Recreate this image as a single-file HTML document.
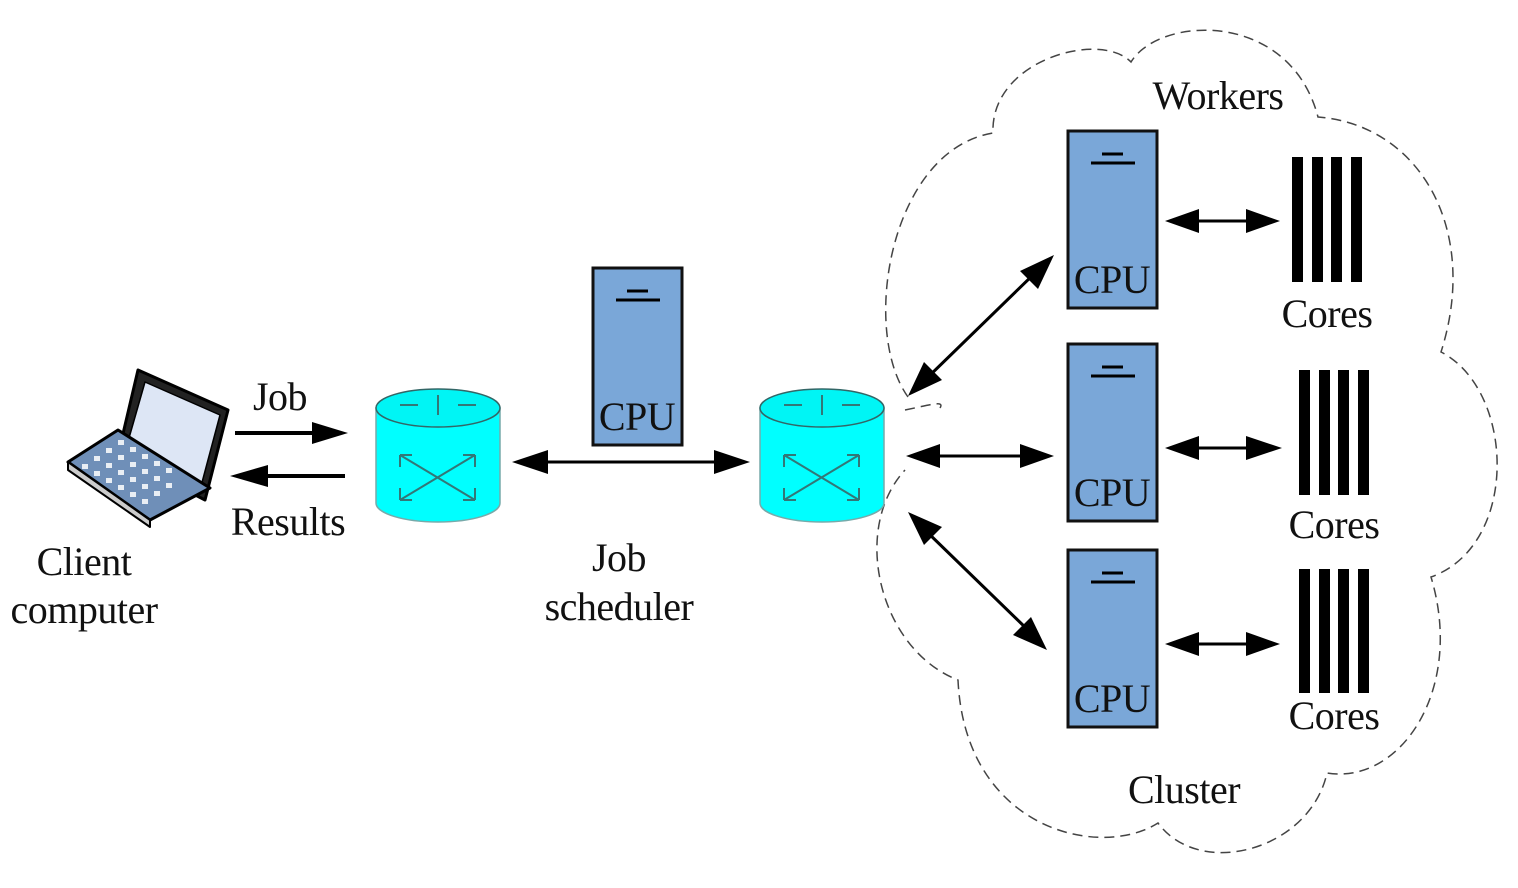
<!DOCTYPE html>
<html><head><meta charset="utf-8"><style>
html,body{margin:0;padding:0;background:#fff;}
svg{display:block;}
text{font-family:"Liberation Serif",serif;font-size:40px;fill:#111;letter-spacing:-0.5px;}
</style></head><body>
<svg width="1518" height="888" viewBox="0 0 1518 888" xmlns="http://www.w3.org/2000/svg">
<!-- cloud -->
<path d="M908,397 C860,330 890,150 993,133 C990,60 1100,30 1131,62 C1160,15 1290,10 1318,117 C1420,125 1480,230 1441,352 C1515,390 1520,545 1431,577 C1465,690 1400,785 1327,773 C1310,850 1200,880 1158,823 C1100,860 965,830 958,680 C880,650 850,530 905,470 M905,410 C930,405 945,400 940,408"
 fill="none" stroke="#444" stroke-width="1.5" stroke-dasharray="10,6"/>

<!-- laptop -->
<g stroke="#000" stroke-linejoin="round">
<polygon points="138,370 228,410 205,500 118,455" fill="#222" stroke-width="3"/>
<polygon points="145,382 220,415 200,490 125,452" fill="#dde6f5" stroke-width="1.5"/>
<polygon points="68,462 118,430 210,488 150,520" fill="#6f8fb8" stroke-width="3"/>
<polygon points="68,462 150,520 150,527 68,470" fill="#ccc" stroke-width="2"/>
</g>
<g fill="#fff" opacity=".85">
<g transform="translate(118,440)"><rect x="0" y="0" width="6" height="5"/><rect x="12" y="7" width="6" height="5"/><rect x="24" y="14" width="6" height="5"/><rect x="36" y="21" width="6" height="5"/><rect x="48" y="28" width="6" height="5"/></g>
<g transform="translate(106,448)"><rect x="0" y="0" width="6" height="5"/><rect x="12" y="7" width="6" height="5"/><rect x="24" y="14" width="6" height="5"/><rect x="36" y="21" width="6" height="5"/><rect x="48" y="28" width="6" height="5"/><rect x="60" y="35" width="6" height="5"/></g>
<g transform="translate(94,456)"><rect x="0" y="0" width="6" height="5"/><rect x="12" y="7" width="6" height="5"/><rect x="24" y="14" width="6" height="5"/><rect x="36" y="21" width="6" height="5"/><rect x="48" y="28" width="6" height="5"/><rect x="60" y="35" width="6" height="5"/></g>
<g transform="translate(82,464)"><rect x="0" y="0" width="6" height="5"/><rect x="12" y="7" width="6" height="5"/><rect x="24" y="14" width="6" height="5"/><rect x="36" y="21" width="6" height="5"/><rect x="48" y="28" width="6" height="5"/><rect x="60" y="35" width="6" height="5"/></g>
</g>

<!-- job/results arrows -->
<line x1="235" y1="433" x2="315" y2="433" stroke="#000" stroke-width="4"/>
<polygon points="312,422 348,433 312,444" fill="#000"/>
<line x1="265" y1="476" x2="345" y2="476" stroke="#000" stroke-width="4"/>
<polygon points="268,465 230,476 268,487" fill="#000"/>

<!-- cylinders -->
<g>
<path d="M376,408 L376,503 A62,19 0 0 0 500,503 L500,408 Z" fill="#00ffff" stroke="#7aa" stroke-width="1.5"/>
<ellipse cx="438" cy="408" rx="62" ry="19" fill="#00f5f5" stroke="#366" stroke-width="1.5"/>
<path d="M400,455 L475,500 M475,455 L400,500 M400,455 l12,0 M400,455 l0,12 M475,455 l-12,0 M475,455 l0,12 M400,500 l12,0 M400,500 l0,-12 M475,500 l-12,0 M475,500 l0,-12" stroke="#377" stroke-width="2" fill="none"/>
<path d="M400,405 h18 M476,405 h-18 M438,395 v20" stroke="#377" stroke-width="2"/>
</g>
<g>
<path d="M760,408 L760,503 A62,19 0 0 0 884,503 L884,408 Z" fill="#00ffff" stroke="#7aa" stroke-width="1.5"/>
<ellipse cx="822" cy="408" rx="62" ry="19" fill="#00f5f5" stroke="#366" stroke-width="1.5"/>
<path d="M784,455 L859,500 M859,455 L784,500 M784,455 l12,0 M784,455 l0,12 M859,455 l-12,0 M859,455 l0,12 M784,500 l12,0 M784,500 l0,-12 M859,500 l-12,0 M859,500 l0,-12" stroke="#377" stroke-width="2" fill="none"/>
<path d="M784,405 h18 M860,405 h-18 M822,395 v20" stroke="#377" stroke-width="2"/>
</g>

<!-- servers -->
<g id="srv">
<rect x="593" y="268" width="89" height="177" fill="#7aa7d8" stroke="#111" stroke-width="3"/>
<line x1="616" y1="300" x2="660" y2="300" stroke="#000" stroke-width="3"/>
<line x1="627" y1="291" x2="648" y2="291" stroke="#000" stroke-width="3"/>
<text x="637" y="430" text-anchor="middle">CPU</text>
</g>
<use href="#srv" x="475" y="-137"/>
<use href="#srv" x="475" y="76"/>
<use href="#srv" x="475" y="282"/>

<!-- scheduler double arrow -->
<line x1="540" y1="462" x2="722" y2="462" stroke="#000" stroke-width="3"/>
<polygon points="548,450 512,462 548,474" fill="#000"/>
<polygon points="714,450 750,462 714,474" fill="#000"/>

<!-- cores -->
<g fill="#000">
<rect x="1292" y="157" width="11" height="125"/><rect x="1312" y="157" width="11" height="125"/><rect x="1331" y="157" width="11" height="125"/><rect x="1351" y="157" width="11" height="125"/>
<rect x="1299" y="370" width="11" height="125"/><rect x="1319" y="370" width="11" height="125"/><rect x="1338" y="370" width="11" height="125"/><rect x="1358" y="370" width="11" height="125"/>
<rect x="1299" y="569" width="11" height="124"/><rect x="1319" y="569" width="11" height="124"/><rect x="1338" y="569" width="11" height="124"/><rect x="1358" y="569" width="11" height="124"/>
</g>

<!-- arrows -->
<g stroke="#000" stroke-width="3">
<line x1="1190" y1="221" x2="1255" y2="221"/>
<line x1="1190" y1="448" x2="1255" y2="448"/>
<line x1="1190" y1="644" x2="1255" y2="644"/>
<line x1="935" y1="456" x2="1025" y2="456"/>
<line x1="925" y1="380" x2="1036" y2="272"/>
<line x1="925" y1="530" x2="1030" y2="632"/>
</g>
<g fill="#000">
<polygon points="1199,209 1165,221 1199,233"/><polygon points="1246,209 1280,221 1246,233"/>
<polygon points="1199,436 1165,448 1199,460"/><polygon points="1246,436 1282,448 1246,460"/>
<polygon points="1199,632 1165,644 1199,656"/><polygon points="1246,632 1280,644 1246,656"/>
<polygon points="940,444 906,456 940,468"/><polygon points="1020,444 1054,456 1020,468"/>
<polygon points="908,396 942,380 924,362"/>
<polygon points="1054,255 1020,271 1038,289"/>
<polygon points="908,512 924,545 942,527"/>
<polygon points="1047,650 1031,617 1013,635"/>
</g>

<!-- labels -->
<text x="280" y="410" text-anchor="middle">Job</text>
<text x="288" y="535" text-anchor="middle">Results</text>
<text x="84" y="575" text-anchor="middle">Client</text>
<text x="84" y="623" text-anchor="middle">computer</text>
<text x="619" y="571" text-anchor="middle">Job</text>
<text x="619" y="620" text-anchor="middle">scheduler</text>
<text x="1218" y="109" text-anchor="middle">Workers</text>
<text x="1327" y="327" text-anchor="middle">Cores</text>
<text x="1334" y="538" text-anchor="middle">Cores</text>
<text x="1334" y="729" text-anchor="middle">Cores</text>
<text x="1184" y="803" text-anchor="middle">Cluster</text>
</svg>
</body></html>
